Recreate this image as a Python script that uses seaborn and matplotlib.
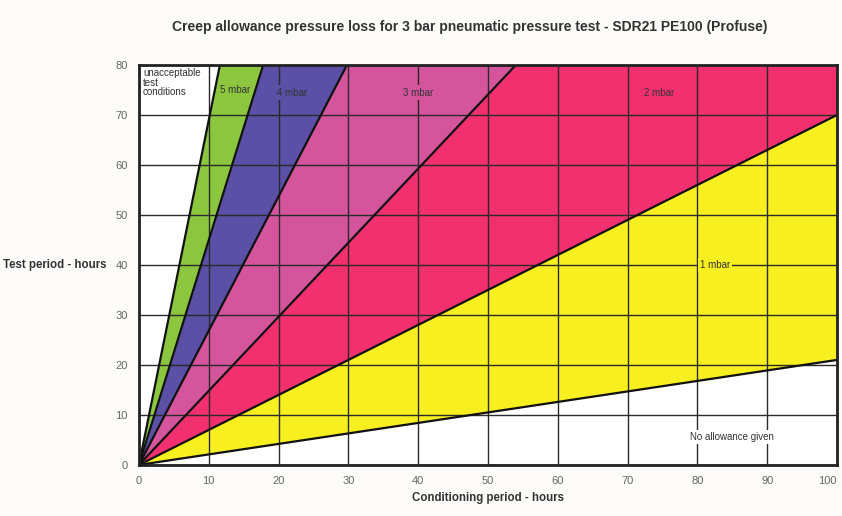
import numpy as np
import pandas as pd
import matplotlib
matplotlib.use("Agg")
import matplotlib.pyplot as plt
import seaborn as sns

# Boundary lines from the origin: end points (x_end, y_end)
boundary_names = ["none/1", "1/2", "2/3", "3/4", "4/5", "5/unacc"]
boundary_x_end = [100, 100, 54, 29.8, 17.8, 11.6]
boundary_y_end = [21, 70, 80, 80, 80, 80]

band_labels = ["No allowance given", "1 mbar", "2 mbar", "3 mbar", "4 mbar", "5 mbar"]
band_colors = ["#f7ef1f", "#f2306f", "#d4559c", "#5b4fa6", "#8cc63e"]
label_x = [85, 82.5, 74.5, 40, 22, 13.8]
label_y = [5.5, 40, 74.5, 74.5, 74.5, 75]

x_ticks = [0, 10, 20, 30, 40, 50, 60, 70, 80, 90, 100]
y_ticks = [0, 10, 20, 30, 40, 50, 60, 70, 80]

sns.set_theme(style="white")
plt.rcParams['font.family'] = ['Liberation Sans', 'DejaVu Sans']

fig = plt.figure(figsize=(8.42, 5.16), dpi=100)
fig.patch.set_facecolor("#fdfafa")
ax = fig.add_axes([0.165, 0.099, 0.829, 0.775])
ax.set_facecolor("white")

xs = np.linspace(0, 100, 2001)
slopes = [ye / xe for xe, ye in zip(boundary_x_end, boundary_y_end)]
curves = [np.minimum(s * xs, 80) for s in slopes]

for i, col in enumerate(band_colors):
    ax.fill_between(xs, curves[i], curves[i + 1], color=col, linewidth=0, zorder=1)

# grid
for xv in x_ticks:
    ax.axvline(xv, color="#2a2a2a", lw=1.0, zorder=2)
for yv in y_ticks:
    ax.axhline(yv, color="#2a2a2a", lw=1.0, zorder=2)

# boundary lines
for name, xe, ye in zip(boundary_names, boundary_x_end, boundary_y_end):
    df = pd.DataFrame({"x": [0, xe], "y": [0, ye]})
    sns.lineplot(data=df, x="x", y="y", ax=ax, color="#111111", lw=1.6, zorder=3)

ax.set_xlim(0, 100)
ax.set_ylim(0, 80)

# band labels
for i, (lab, lx, ly) in enumerate(zip(band_labels, label_x, label_y)):
    bg = "white" if i == 0 else band_colors[i - 1]
    ax.text(lx, ly, lab, fontsize=7, color="#333333", ha="center", va="center", zorder=4,
            bbox=dict(facecolor=bg, edgecolor="none", pad=1.5))
ax.text(0.6, 76.5, "unacceptable\ntest\nconditions", fontsize=7, color="#333333",
        ha="left", va="center", linespacing=0.95, zorder=4,
        bbox=dict(facecolor="white", edgecolor="none", pad=1.0))

ax.set_xticks(x_ticks)
ax.set_yticks(y_ticks)
xt = ax.set_xticklabels([str(v) for v in x_ticks], fontsize=8, color="#666666")
xt[-1].set_horizontalalignment("right")
ax.set_yticklabels([str(v) for v in y_ticks], fontsize=8, color="#666666")
ax.tick_params(axis="both", length=0, pad=8)

for sp in ax.spines.values():
    sp.set_visible(True)
    sp.set_color("#222222")
    sp.set_linewidth(2)
    sp.set_zorder(5)

ax.set_xlabel("Conditioning period - hours", fontsize=8.3, fontweight="bold", color="#333333", labelpad=4)
ax.set_ylabel("")
fig.text(0.004, (516 - 265) / 516, "Test period - hours", fontsize=8.3, fontweight="bold",
         color="#333333", ha="left", va="center")
fig.text(470 / 842, (516 - 27) / 516, "Creep allowance pressure loss for 3 bar pneumatic pressure test - SDR21 PE100 (Profuse)",
         fontsize=10, fontweight="bold", color="#333333", ha="center", va="center")

fig.savefig("out.png", dpi=100, facecolor=fig.get_facecolor())
